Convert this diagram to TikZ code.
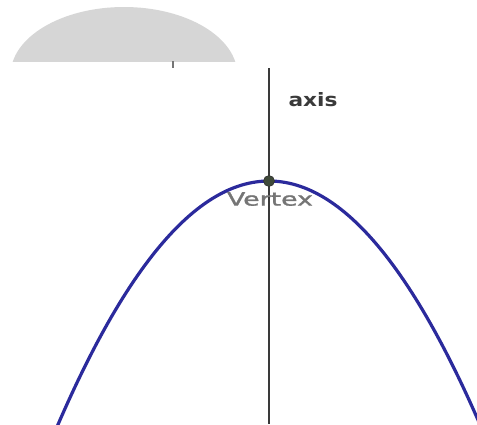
\documentclass[tikz,border=0pt]{standalone}
\usepackage{fontspec}
\setmainfont{DejaVu Sans}
\newfontfamily\vfont[FakeBold=1.2]{DejaVu Sans}
\usepackage{graphicx}
\definecolor{domegrey}{HTML}{D6D6D6}
\definecolor{curveblue}{HTML}{2B2A9C}
\definecolor{axisgrey}{HTML}{3A3A3A}
\definecolor{labelgrey}{HTML}{757575}
\definecolor{dotfill}{HTML}{3F4A3A}
\tikzset{
  curve/.style={draw=curveblue, line width=3.2pt, line cap=round},
  axisline/.style={draw=axisgrey, line width=2.2pt},
  vdot/.style={circle, fill=dotfill, draw=black!80, line width=0.6pt, inner sep=0pt, minimum size=11pt},
  lbl/.style={inner sep=0pt, anchor=center}
}
\begin{document}
\begin{tikzpicture}[x=1pt,y=-1pt]
\useasboundingbox (0,0) rectangle (477,424);
\fill[white] (0,0) rectangle (477,424);
% grey dome
\begin{scope}
\clip (0,0) rectangle (477,61);
\fill[domegrey] (124,75) ellipse [x radius=113.4, y radius=68];
\end{scope}
% small tick
\coordinate (tt) at (173,61);
\coordinate (tb) at (173,68);
\draw[labelgrey, line width=1.6pt] (tt) -- (tb);
% axis
\coordinate (atop) at (269,68);
\coordinate (abot) at (269,424);
\draw[axisline] (atop) -- (abot);
% parabola
\begin{scope}
\clip (0,0) rectangle (477,424);
\draw[curve] plot[domain=-2.2:2.2, samples=120] ({269+100*\x},{181+54.7*\x*\x});
\end{scope}
\node[vdot] (vertex) at (269,181) {};
\node[lbl, text=labelgrey] (vlabel) at (270,199) {\resizebox{86pt}{13.5pt}{\vfont Vertex}};
\node[lbl, text=axisgrey] (alabel) at (313,100) {\resizebox{49pt}{14pt}{\bfseries axis}};
\end{tikzpicture}
\end{document}
